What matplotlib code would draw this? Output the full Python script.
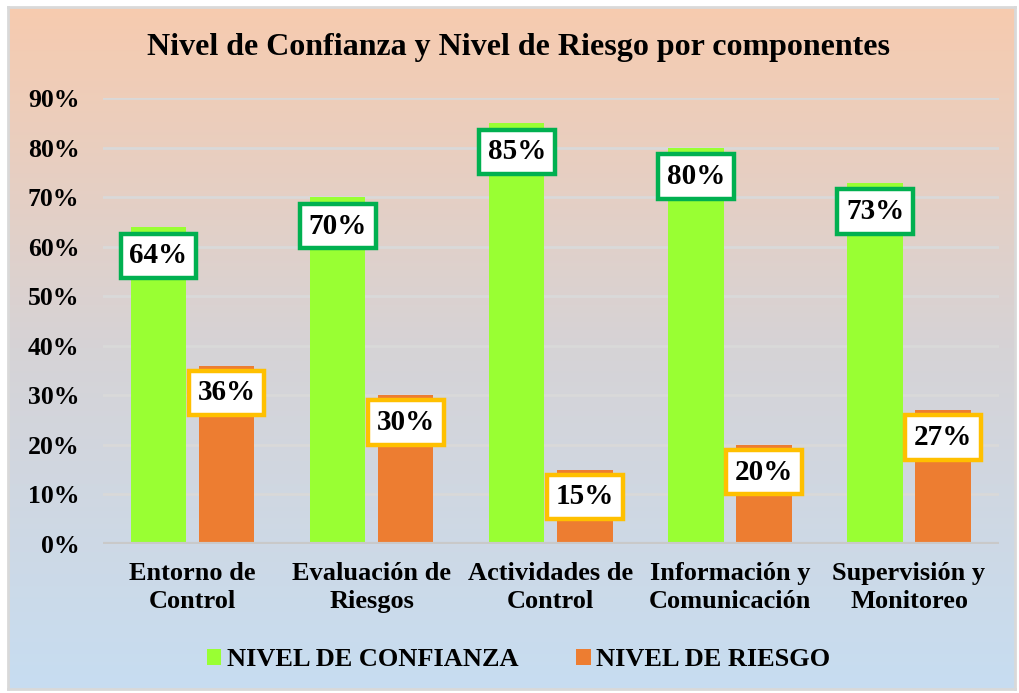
import numpy as np
import matplotlib.pyplot as plt
from matplotlib.colors import LinearSegmentedColormap

categorias = ["Entorno de\nControl", "Evaluación de\nRiesgos", "Actividades de\nControl",
              "Información y\nComunicación", "Supervisión y\nMonitoreo"]
confianza = [64, 70, 85, 80, 73]
riesgo = [36, 30, 15, 20, 27]
yticks = [0, 10, 20, 30, 40, 50, 60, 70, 80, 90]

plt.rcParams['font.family'] = ['Liberation Serif', 'DejaVu Serif']
plt.rcParams['font.weight'] = 'bold'

fig = plt.figure(figsize=(10.19, 6.93), dpi=100)

# fondo degradado
bg = fig.add_axes([0.008, 0.006, 0.988, 0.984], zorder=-10)
cmap = LinearSegmentedColormap.from_list("fondo", ["#C7DDF1", "#D6D3D6", "#F7CBAF"])
grad = np.linspace(0, 1, 256).reshape(-1, 1)
bg.imshow(grad, aspect='auto', cmap=cmap, origin='lower', extent=[0, 1, 0, 1])
bg.set_xticks([])
bg.set_yticks([])
for s in bg.spines.values():
    s.set_color('#D9D9D9')
    s.set_linewidth(2)

ax = fig.add_axes([0.101, 0.215, 0.879, 0.643])
ax.patch.set_alpha(0)
x = np.arange(len(categorias))
w = 0.31
sep = 0.035

b1 = ax.bar(x - w / 2 - sep, confianza, w, color='#99FF33', label='NIVEL DE CONFIANZA', zorder=3)
b2 = ax.bar(x + w / 2 + sep, riesgo, w, color='#ED7D31', label='NIVEL DE RIESGO', zorder=3)

for rect, v in zip(b1, confianza):
    ax.text(rect.get_x() + rect.get_width() / 2, v - 5.8, f"{v}%", ha='center', va='center',
            fontsize=21, fontweight='bold', zorder=5,
            bbox=dict(boxstyle='square,pad=0.3', fc='white', ec='#00B050', lw=3.2))
for rect, v in zip(b2, riesgo):
    ax.text(rect.get_x() + rect.get_width() / 2, v - 5.5, f"{v}%", ha='center', va='center',
            fontsize=21, fontweight='bold', zorder=5,
            bbox=dict(boxstyle='square,pad=0.3', fc='white', ec='#FFC000', lw=3.2))

ax.set_ylim(0, 90)
ax.set_xlim(-0.5, len(categorias) - 0.5)
ax.set_yticks(yticks)
ax.set_yticklabels([f"{t}%" for t in yticks], fontsize=18.5, fontweight='bold')
ax.set_xticks(x)
ax.set_xticklabels(categorias, fontsize=19, fontweight='bold', linespacing=1.3)
ax.tick_params(axis='y', length=0, pad=17)
ax.tick_params(axis='x', length=0, pad=13)
ax.grid(axis='y', color='#D9D9D9', lw=2, zorder=0)
for s in ax.spines.values():
    s.set_visible(False)
ax.axhline(0, color='#C9C9C9', lw=3, zorder=4)

fig.text(0.509, 0.932, "Nivel de Confianza y Nivel de Riesgo por componentes",
         ha='center', va='center', fontsize=23, fontweight='bold')

fig.legend(handles=[b1, b2], loc='center', bbox_to_anchor=(0.509, 0.048), ncol=2,
           frameon=False, fontsize=19, handlelength=0.55, handleheight=0.55,
           handletextpad=0.2, columnspacing=2.2)

fig.savefig("out.png", dpi=100)
